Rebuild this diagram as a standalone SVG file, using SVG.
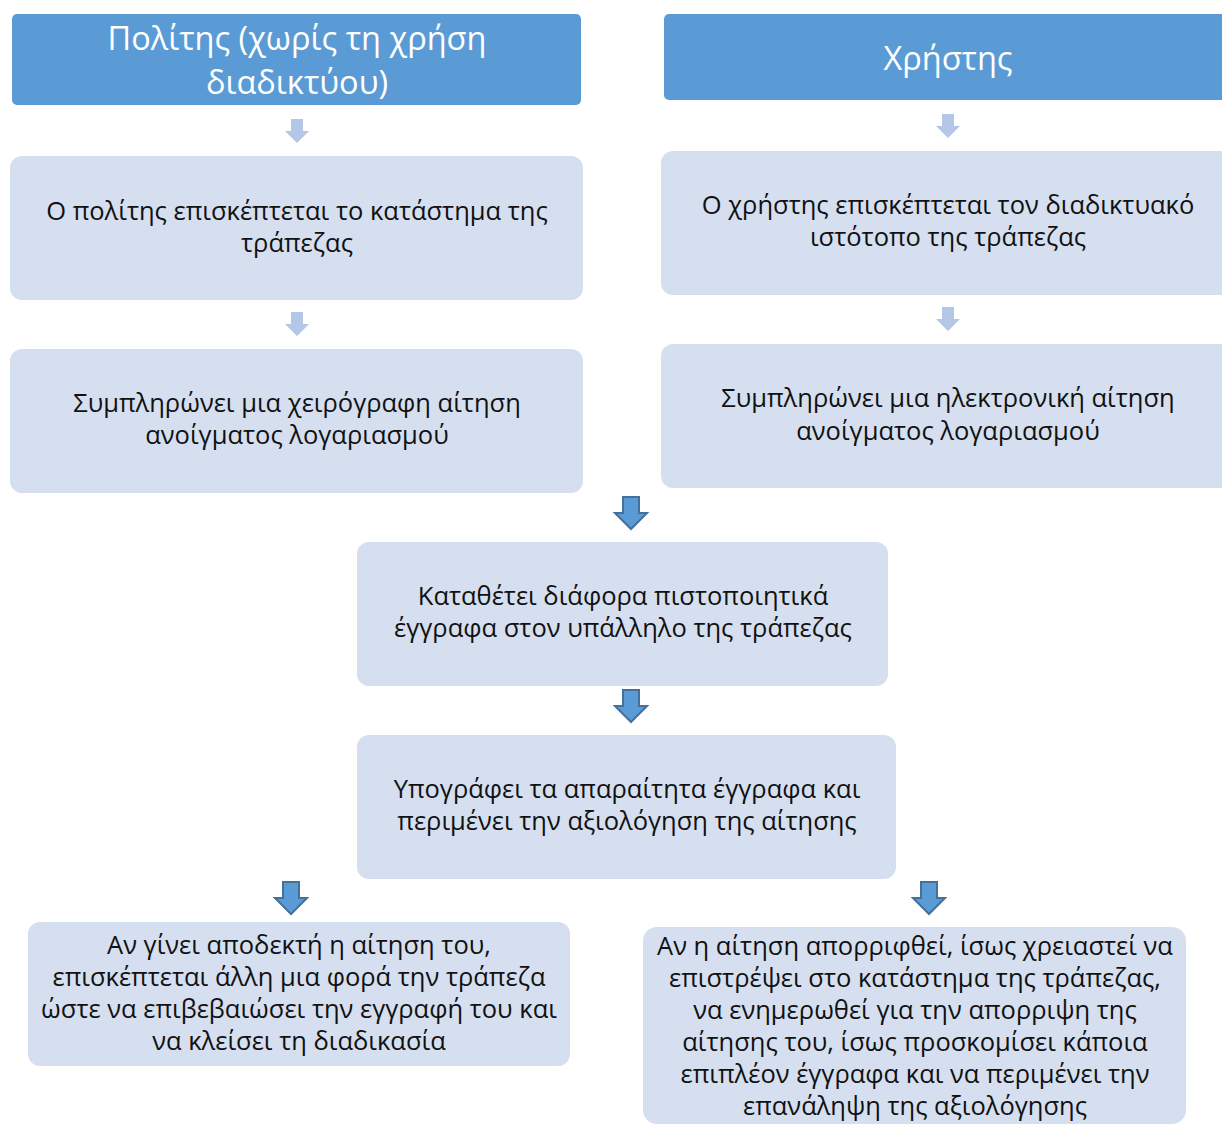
<svg xmlns="http://www.w3.org/2000/svg" width="1222" height="1125" viewBox="0 0 1222 1125">
  <defs>
    <style>
      .head { fill: #5b9bd5; }
      .box { fill: #d5dff0; }
      .htxt { font-family: "Open Sans", "Noto Sans", sans-serif; font-size: 32.5px; fill: #ffffff; text-anchor: middle; }
      .txt { font-family: "Open Sans", "Noto Sans", sans-serif; font-size: 25.5px; fill: #111111; text-anchor: middle; }
      .lite { fill: #b4c7e7; }
      .dark { fill: #5b9bd5; stroke: #41719c; stroke-width: 2; stroke-linejoin: miter; }
    </style>
    <!-- down arrow shapes centred on x=0, top at y=0 -->
    <path id="liteArrow" d="M-6,0 H6 V12 H12 L0,24 L-12,12 H-6 Z"/>
    <path id="darkArrow" d="M-8,0 H8 V16 H16 L0,32 L-16,16 H-8 Z"/>
  </defs>

  <rect width="1222" height="1125" fill="#ffffff"/>

  <g id="connectors">
    <use href="#liteArrow" class="lite" x="297" y="119"/>
    <use href="#liteArrow" class="lite" x="297" y="312"/>
    <use href="#liteArrow" class="lite" x="948" y="114"/>
    <use href="#liteArrow" class="lite" x="948" y="307"/>
    <use href="#darkArrow" class="dark" x="631" y="497"/>
    <use href="#darkArrow" class="dark" x="631" y="690"/>
    <use href="#darkArrow" class="dark" x="291" y="882"/>
    <use href="#darkArrow" class="dark" x="929" y="882"/>
  </g>

  <g id="head-citizen">
    <rect class="head" x="12" y="14" width="569" height="91" rx="5"/>
    <text class="htxt" x="297" y="50">Πολίτης (χωρίς τη χρήση</text>
    <text class="htxt" x="297" y="94">διαδικτύου)</text>
  </g>

  <g id="head-user">
    <rect class="head" x="664" y="14" width="570" height="86" rx="5"/>
    <text class="htxt" x="948" y="70">Χρήστης</text>
  </g>

  <g id="citizen-visit">
    <rect class="box" x="10" y="156" width="573" height="144" rx="12"/>
    <text class="txt" x="297" y="220">Ο πολίτης επισκέπτεται το κατάστημα της</text>
    <text class="txt" x="297" y="252">τράπεζας</text>
  </g>

  <g id="citizen-form">
    <rect class="box" x="10" y="349" width="573" height="144" rx="12"/>
    <text class="txt" x="297" y="412">Συμπληρώνει μια χειρόγραφη αίτηση</text>
    <text class="txt" x="297" y="444">ανοίγματος λογαριασμού</text>
  </g>

  <g id="user-visit">
    <rect class="box" x="661" y="151" width="573" height="144" rx="12"/>
    <text class="txt" x="948" y="214">Ο χρήστης επισκέπτεται τον διαδικτυακό</text>
    <text class="txt" x="948" y="246">ιστότοπο της τράπεζας</text>
  </g>

  <g id="user-form">
    <rect class="box" x="661" y="344" width="573" height="144" rx="12"/>
    <text class="txt" x="948" y="407">Συμπληρώνει μια ηλεκτρονική αίτηση</text>
    <text class="txt" x="948" y="440">ανοίγματος λογαριασμού</text>
  </g>

  <g id="submit-docs">
    <rect class="box" x="357" y="542" width="531" height="144" rx="12"/>
    <text class="txt" x="623" y="605">Καταθέτει διάφορα πιστοποιητικά</text>
    <text class="txt" x="623" y="637">έγγραφα στον υπάλληλο της τράπεζας</text>
  </g>

  <g id="sign-docs">
    <rect class="box" x="357" y="735" width="539" height="144" rx="12"/>
    <text class="txt" x="627" y="798">Υπογράφει τα απαραίτητα έγγραφα και</text>
    <text class="txt" x="627" y="830">περιμένει την αξιολόγηση της αίτησης</text>
  </g>

  <g id="accepted">
    <rect class="box" x="28" y="922" width="542" height="144" rx="12"/>
    <text class="txt" x="299" y="954">Αν γίνει αποδεκτή η αίτηση του,</text>
    <text class="txt" x="299" y="986">επισκέπτεται άλλη μια φορά την τράπεζα</text>
    <text class="txt" x="299" y="1018">ώστε να επιβεβαιώσει την εγγραφή του και</text>
    <text class="txt" x="299" y="1050">να κλείσει τη διαδικασία</text>
  </g>

  <g id="rejected">
    <rect class="box" x="643" y="927" width="543" height="197" rx="14"/>
    <text class="txt" x="915" y="955">Αν η αίτηση απορριφθεί, ίσως χρειαστεί να</text>
    <text class="txt" x="915" y="987">επιστρέψει στο κατάστημα της τράπεζας,</text>
    <text class="txt" x="915" y="1019">να ενημερωθεί για την απορριψη της</text>
    <text class="txt" x="915" y="1051">αίτησης του, ίσως προσκομίσει κάποια</text>
    <text class="txt" x="915" y="1083">επιπλέον έγγραφα και να περιμένει την</text>
    <text class="txt" x="915" y="1115">επανάληψη της αξιολόγησης</text>
  </g>
</svg>
